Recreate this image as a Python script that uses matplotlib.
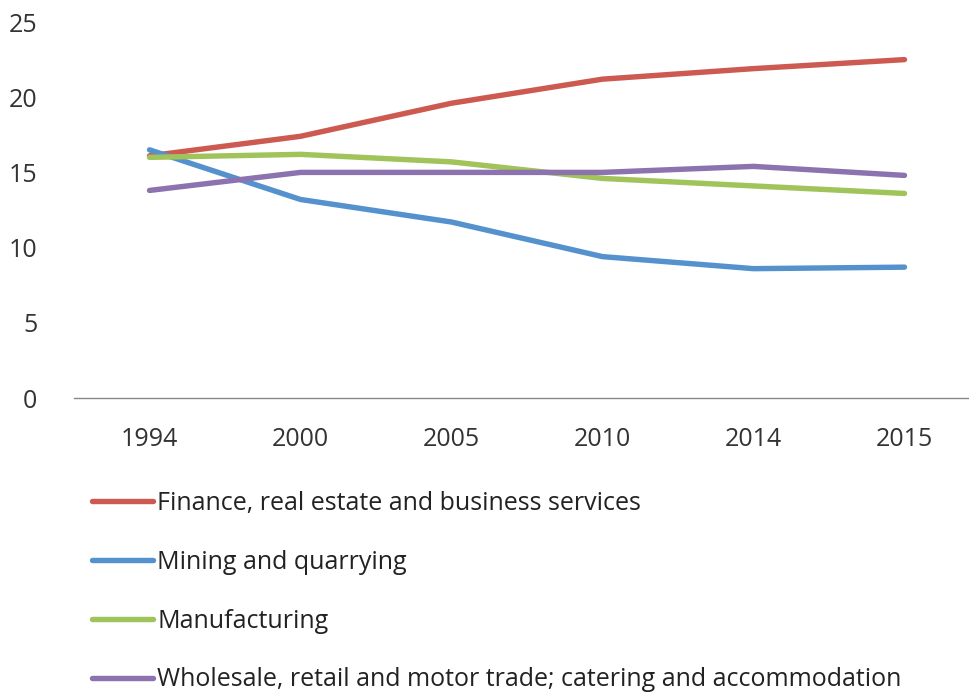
import matplotlib.pyplot as plt

# share of output by sector (%)
years = ['1994', '2000', '2005', '2010', '2014', '2015']
finance = [16.1, 17.4, 19.6, 21.2, 21.9, 22.5]
mining = [16.5, 13.2, 11.7, 9.4, 8.6, 8.7]
manufacturing = [16.0, 16.2, 15.7, 14.6, 14.1, 13.6]
wholesale = [13.8, 15.0, 15.0, 15.0, 15.4, 14.8]

labels = ['Finance, real estate and business services',
          'Mining and quarrying',
          'Manufacturing',
          'Wholesale, retail and motor trade; catering and accommodation']
colors = ['#CD5A50', '#5591CD', '#A0C35A', '#8C73AF']

plt.rcParams['font.family'] = ['Open Sans', 'DejaVu Sans']

fig = plt.figure(figsize=(9.69, 6.93), dpi=100)
ax = fig.add_axes([74/969, 295/693, 906/969, 376/693])

x = range(len(years))
for vals, lab, c in zip([finance, mining, manufacturing, wholesale], labels, colors):
    ax.plot(x, vals, color=c, lw=3.9, solid_capstyle='round',
            solid_joinstyle='round', label=lab)

ax.set_xlim(-0.5, len(years) - 0.5)
ax.set_ylim(0, 25)
ax.set_yticks([0, 5, 10, 15, 20, 25])
ax.set_xticks(list(x))
ax.set_xticklabels(years)
for s in ['top', 'right', 'left']:
    ax.spines[s].set_visible(False)
ax.spines['bottom'].set_color('#888888')
ax.spines['bottom'].set_linewidth(1)
ax.tick_params(axis='both', length=0, labelsize=18, colors='#333333')
ax.tick_params(axis='x', pad=21)
ax.tick_params(axis='y', pad=26.5)

fig.legend(loc='upper left', bbox_to_anchor=(82/969, 1 - 481/693),
           frameon=False, fontsize=18, handlelength=2.44, handletextpad=0.16,
           labelspacing=1.35, borderaxespad=0, labelcolor='#222222')

fig.savefig('out.png', dpi=100)
